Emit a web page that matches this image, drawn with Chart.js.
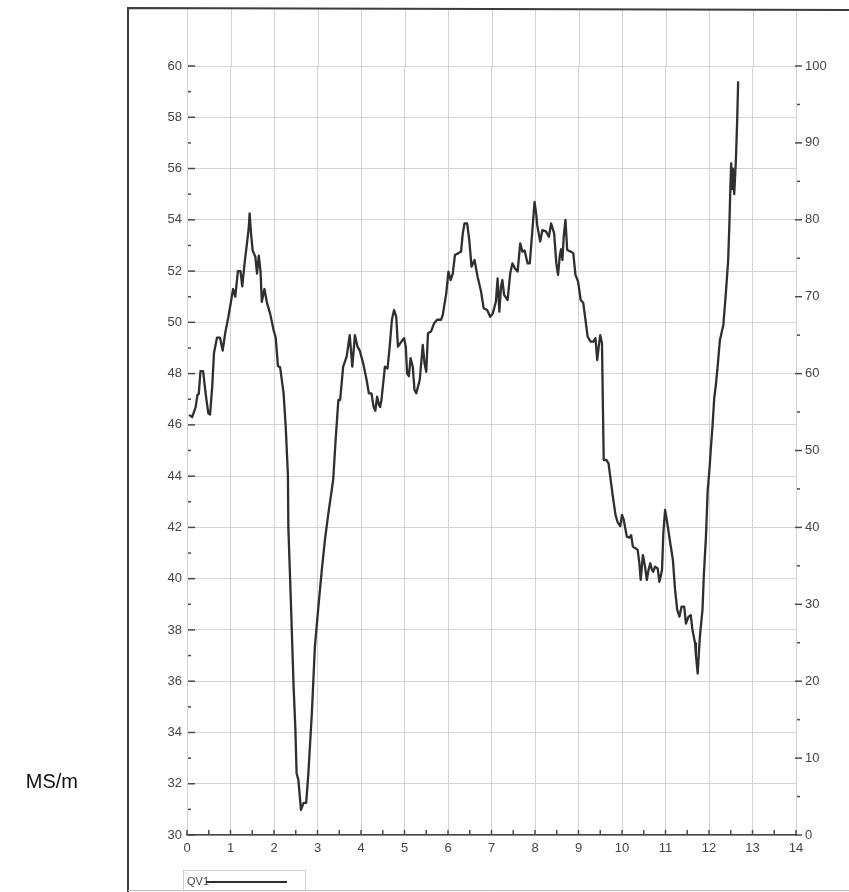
<!DOCTYPE html>
<html>
<head>
<meta charset="utf-8">
<title>QV1</title>
<script src="https://cdn.jsdelivr.net/npm/chart.js@4.4.1/dist/chart.umd.min.js"></script>
<style>
  html, body { margin: 0; padding: 0; background: #ffffff; }
  #wrap { position: relative; width: 849px; height: 892px; }
  canvas { display: block; }
</style>
</head>
<body>
<div id="wrap"><canvas id="c" width="849" height="892"></canvas></div>
<script>
// Profile position along the line
const distance = [
  0.05, 0.12, 0.20, 0.24, 0.27, 0.31, 0.37, 0.43, 0.49, 0.53, 0.58, 0.62, 0.69, 0.76, 0.82, 0.88, 0.95,
  1.02, 1.06, 1.11, 1.17, 1.23, 1.27, 1.33, 1.38, 1.42, 1.44, 1.47, 1.51, 1.57, 1.61, 1.65, 1.69, 1.72,
  1.78, 1.84, 1.91, 1.99, 2.04, 2.09, 2.14, 2.22, 2.27, 2.32, 2.33, 2.39, 2.45, 2.49, 2.52, 2.56, 2.62,
  2.68, 2.74, 2.79, 2.87, 2.94, 3.02, 3.10, 3.17, 3.25, 3.36, 3.42, 3.48, 3.52, 3.59, 3.67, 3.74, 3.80,
  3.86, 3.92, 3.97, 4.05, 4.13, 4.18, 4.24, 4.29, 4.33, 4.37, 4.41, 4.44, 4.47, 4.55, 4.61, 4.66, 4.71,
  4.76, 4.81, 4.85, 4.93, 4.99, 5.03, 5.06, 5.10, 5.14, 5.19, 5.23, 5.27, 5.35, 5.42, 5.46, 5.50, 5.54,
  5.61, 5.68, 5.75, 5.84, 5.88, 5.96, 6.01, 6.06, 6.11, 6.16, 6.24, 6.30, 6.34, 6.38, 6.44, 6.49, 6.54,
  6.61, 6.68, 6.76, 6.82, 6.90, 6.97, 7.03, 7.10, 7.14, 7.18, 7.22, 7.25, 7.29, 7.37, 7.43, 7.48, 7.54,
  7.60, 7.66, 7.71, 7.76, 7.83, 7.88, 7.94, 7.99, 8.03, 8.05, 8.12, 8.17, 8.25, 8.32, 8.37, 8.44, 8.49,
  8.53, 8.57, 8.60, 8.63, 8.66, 8.70, 8.74, 8.82, 8.88, 8.93, 8.99, 9.05, 9.11, 9.16, 9.21, 9.28, 9.34,
  9.39, 9.43, 9.47, 9.50, 9.54, 9.56, 9.58, 9.64, 9.69, 9.73, 9.79, 9.85, 9.90, 9.96, 10.00, 10.04,
  10.11, 10.17, 10.21, 10.25, 10.30, 10.36, 10.40, 10.43, 10.48, 10.53, 10.57, 10.61, 10.65, 10.69,
  10.72, 10.76, 10.82, 10.86, 10.92, 10.95, 10.99, 11.03, 11.11, 11.17, 11.22, 11.27, 11.32, 11.37,
  11.43, 11.47, 11.53, 11.58, 11.62, 11.68, 11.70, 11.74, 11.79, 11.85, 11.88, 11.93, 11.97, 12.01,
  12.04, 12.08, 12.12, 12.16, 12.20, 12.25, 12.33, 12.39, 12.44, 12.47, 12.49, 12.51, 12.53, 12.55,
  12.58, 12.62, 12.65, 12.67
];

// Conductivity, MS/m (left axis)
const conductivity = [
  46.39, 46.30, 46.70, 47.17, 47.20, 48.10, 48.10, 47.20, 46.45, 46.40, 47.50, 48.80, 49.40, 49.40, 48.90, 49.60, 50.20,
  50.90, 51.30, 51.00, 52.00, 52.00, 51.40, 52.40, 53.10, 53.70, 54.25, 53.50, 52.80, 52.56, 51.90, 52.60, 52.00, 50.80,
  51.30, 50.75, 50.35, 49.70, 49.40, 48.30, 48.25, 47.24, 45.90, 44.05, 42.00, 39.00, 35.80, 34.20, 32.40, 32.15, 30.98,
  31.25, 31.25, 32.40, 34.75, 37.35, 38.90, 40.35, 41.50, 42.55, 43.85, 45.50, 46.97, 46.97, 48.27, 48.66, 49.50, 48.27,
  49.50, 49.05, 48.90, 48.40, 47.75, 47.23, 47.23, 46.70, 46.55, 47.10, 46.80, 46.70, 46.97, 48.27, 48.20, 49.05, 50.10,
  50.48, 50.22, 49.05, 49.25, 49.38, 49.05, 48.00, 47.90, 48.60, 48.27, 47.36, 47.23, 47.75, 49.12, 48.40, 48.07, 49.57,
  49.64, 49.96, 50.10, 50.10, 50.29, 51.13, 51.98, 51.65, 51.90, 52.63, 52.70, 52.76, 53.47, 53.86, 53.86, 53.20, 52.17,
  52.43, 51.78, 51.20, 50.55, 50.48, 50.22, 50.35, 50.80, 51.71, 50.42, 51.40, 51.65, 51.07, 50.87, 51.90, 52.30, 52.10,
  51.98, 53.08, 52.76, 52.80, 52.30, 52.30, 53.60, 54.70, 54.20, 53.80, 53.15, 53.60, 53.55, 53.34, 53.86, 53.47, 52.30,
  51.85, 52.60, 52.85, 52.43, 53.34, 54.00, 52.82, 52.76, 52.70, 51.85, 51.59, 50.87, 50.75, 50.10, 49.44, 49.25, 49.25,
  49.38, 48.53, 49.12, 49.50, 49.18, 46.84, 44.63, 44.63, 44.50, 43.98, 43.20, 42.49, 42.20, 42.05, 42.49, 42.30,
  41.64, 41.60, 41.70, 41.25, 41.20, 41.12, 40.60, 39.95, 40.92, 40.47, 39.95, 40.34, 40.60, 40.34,
  40.27, 40.47, 40.40, 39.88, 40.34, 41.77, 42.68, 42.29, 41.38, 40.73, 39.56, 38.78, 38.52, 38.91,
  38.91, 38.25, 38.52, 38.58, 38.00, 37.48, 37.00, 36.30, 37.74, 38.78, 40.08, 41.64, 43.46, 44.24,
  45.02, 45.93, 47.04, 47.60, 48.30, 49.30, 49.90, 51.20, 52.40, 53.90, 55.17, 56.20, 55.20, 56.00,
  55.00, 56.40, 58.00, 59.40
];

// Axis ticks
const xTickValues = [0, 1, 2, 3, 4, 5, 6, 7, 8, 9, 10, 11, 12, 13, 14];
const leftTickValues = [30, 32, 34, 36, 38, 40, 42, 44, 46, 48, 50, 52, 54, 56, 58, 60];
const rightTickValues = [0, 10, 20, 30, 40, 50, 60, 70, 80, 90, 100];

const seriesName = 'QV1';
const unitLabel = 'MS/m';

const lineColor = '#2f2f2f';
const gridColor = '#d3d3d3';
const tickColor = '#4a4a4a';
const labelFont = { family: "'Liberation Sans', Arial, sans-serif", size: 13 };

// Frame, minor ticks, grid extension above the plot, legend and unit caption
const decorations = {
  id: 'decorations',
  beforeDatasetsDraw(chart) {
    const ctx = chart.ctx;
    const area = chart.chartArea;
    const xs = chart.scales.x;
    ctx.save();
    // vertical grid continues up to the frame
    ctx.strokeStyle = gridColor;
    ctx.lineWidth = 1;
    xTickValues.forEach(v => {
      const px = Math.round(xs.getPixelForValue(v)) + 0.5;
      ctx.beginPath();
      ctx.moveTo(px, 9);
      ctx.lineTo(px, area.top);
      ctx.stroke();
    });
    ctx.restore();
  },
  afterDraw(chart) {
    const ctx = chart.ctx;
    const area = chart.chartArea;
    const xs = chart.scales.x;
    const yl = chart.scales.y;
    const yr = chart.scales.y2;
    ctx.save();

    // outer frame
    ctx.strokeStyle = '#3c3c3c';
    ctx.lineWidth = 2;
    ctx.beginPath();
    ctx.moveTo(128, 892);
    ctx.lineTo(128, 8);
    ctx.lineTo(849, 10);
    ctx.stroke();
    ctx.strokeStyle = '#bdbdbd';
    ctx.lineWidth = 1;
    ctx.beginPath();
    ctx.moveTo(128, 890.5);
    ctx.lineTo(849, 890.5);
    ctx.stroke();

    // tick marks
    ctx.strokeStyle = tickColor;
    ctx.lineWidth = 1.5;
    for (let v = yl.min; v <= yl.max; v += 1) {
      const py = yl.getPixelForValue(v);
      const len = (v % 2 === 0) ? 7 : 3;
      const x0 = area.left + 1;
      ctx.beginPath();
      ctx.moveTo(x0, py);
      ctx.lineTo(x0 + len, py);
      ctx.stroke();
    }
    for (let v = yr.min; v <= yr.max; v += 5) {
      const py = yr.getPixelForValue(v);
      const major = v % 10 === 0;
      const x0 = major ? area.right - 1 : area.right + 1;
      const len = major ? 7 : 3;
      ctx.beginPath();
      ctx.moveTo(x0, py);
      ctx.lineTo(x0 + len, py);
      ctx.stroke();
    }
    for (let v = xs.min; v <= xs.max; v += 0.5) {
      const px = xs.getPixelForValue(v);
      ctx.beginPath();
      ctx.moveTo(px, area.bottom);
      ctx.lineTo(px, area.bottom - 5);
      ctx.stroke();
    }

    // legend
    const ds = chart.data.datasets[0];
    ctx.strokeStyle = '#cfcfcf';
    ctx.lineWidth = 1;
    ctx.strokeRect(183.5, 870.5, 122, 30);
    ctx.fillStyle = '#444';
    ctx.font = "11px 'Liberation Sans', Arial, sans-serif";
    ctx.textBaseline = 'middle';
    ctx.textAlign = 'left';
    ctx.fillText(ds.label, 187, 882);
    ctx.strokeStyle = ds.borderColor;
    ctx.lineWidth = 1.8;
    ctx.beginPath();
    ctx.moveTo(206, 882);
    ctx.lineTo(287, 882);
    ctx.stroke();

    // unit caption
    ctx.fillStyle = '#111';
    ctx.font = "20px 'Liberation Sans', Arial, sans-serif";
    ctx.textAlign = 'right';
    ctx.textBaseline = 'middle';
    ctx.fillText(unitLabel, 78, 782);
    ctx.restore();
  }
};

new Chart(document.getElementById('c'), {
  type: 'line',
  data: {
    datasets: [{
      label: seriesName,
      data: distance.map((x, i) => ({ x: x, y: conductivity[i] })),
      borderColor: lineColor,
      borderWidth: 2.3,
      borderJoinStyle: 'round',
      pointRadius: 0,
      tension: 0,
      fill: false,
      yAxisID: 'y'
    }]
  },
  options: {
    responsive: false,
    animation: false,
    events: [],
    layout: { padding: { top: 66, left: 0, right: 0, bottom: 0 } },
    plugins: { legend: { display: false }, tooltip: { enabled: false } },
    scales: {
      x: {
        type: 'linear',
        min: 0,
        max: 14,
        afterBuildTicks: s => { s.ticks = xTickValues.map(v => ({ value: v })); },
        afterFit: s => { s.height = 57; },
        ticks: { color: '#444', font: labelFont, padding: 6, maxRotation: 0 },
        grid: { color: gridColor, lineWidth: 1, drawTicks: false },
        border: { display: true, color: '#444', width: 1.5 }
      },
      y: {
        type: 'linear',
        position: 'left',
        min: 30,
        max: 60,
        afterBuildTicks: s => { s.ticks = leftTickValues.map(v => ({ value: v })); },
        afterFit: s => { s.width = 187; },
        ticks: { color: '#444', font: labelFont, padding: 5 },
        grid: { color: gridColor, lineWidth: 1, drawTicks: false },
        border: { display: false }
      },
      y2: {
        type: 'linear',
        position: 'right',
        min: 0,
        max: 100,
        afterBuildTicks: s => { s.ticks = rightTickValues.map(v => ({ value: v })); },
        afterFit: s => { s.width = 53; },
        ticks: { color: '#444', font: labelFont, padding: 9 },
        grid: { display: false, drawTicks: false },
        border: { display: false }
      }
    }
  },
  plugins: [decorations]
});
</script>
</body>
</html>
